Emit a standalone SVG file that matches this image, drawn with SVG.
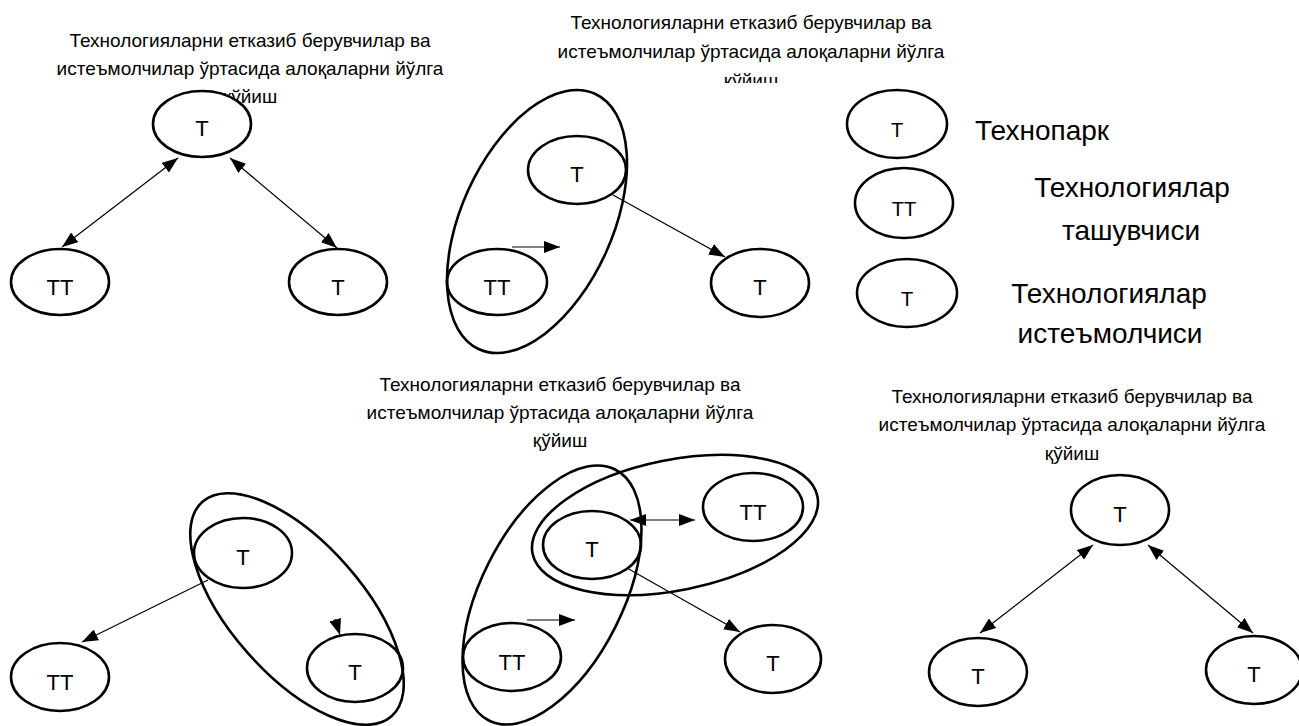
<svg xmlns="http://www.w3.org/2000/svg" width="1299" height="726" viewBox="0 0 1299 726">
<style>
.node{fill:#fff;stroke:#000;stroke-width:2.6}
.grp{fill:none;stroke:#000;stroke-width:2.6}
.lbl{font-family:"Liberation Sans",Arial,sans-serif;font-size:22px;fill:#000;text-anchor:middle}
.lgl{font-family:"Liberation Sans",Arial,sans-serif;font-size:20px;fill:#000;text-anchor:middle}
.ttl{font-family:"Liberation Sans",Arial,sans-serif;font-size:19px;fill:#000;text-anchor:middle}
.leg{font-family:"Liberation Sans",Arial,sans-serif;font-size:28px;fill:#000}
.conn{stroke:#000;stroke-width:1.2;fill:none}
</style>
<defs>
<marker id="ah" viewBox="0 0 16 12" refX="16" refY="6" markerWidth="16" markerHeight="12" markerUnits="userSpaceOnUse" orient="auto-start-reverse">
<path d="M0,0 L16,6 L0,12 z" fill="#000"/>
</marker>
<clipPath id="clip2"><rect x="520" y="0" width="460" height="83"/></clipPath>
</defs>
<rect width="1299" height="726" fill="#fff"/>

<g id="titles">
<g id="title1">
<text class="ttl" x="250" y="47">Технологияларни етказиб берувчилар ва</text>
<text class="ttl" x="250" y="75">истеъмолчилар ўртасида алоқаларни йўлга</text>
<text class="ttl" x="250" y="103">қўйиш</text>
</g>
<g id="title2" clip-path="url(#clip2)">
<text class="ttl" x="751" y="29">Технологияларни етказиб берувчилар ва</text>
<text class="ttl" x="751" y="58">истеъмолчилар ўртасида алоқаларни йўлга</text>
<text class="ttl" x="751" y="87">қўйиш</text>
</g>
<g id="title5">
<text class="ttl" x="560" y="391">Технологияларни етказиб берувчилар ва</text>
<text class="ttl" x="560" y="419">истеъмолчилар ўртасида алоқаларни йўлга</text>
<text class="ttl" x="560" y="447">қўйиш</text>
</g>
<g id="title6">
<text class="ttl" x="1072" y="403">Технологияларни етказиб берувчилар ва</text>
<text class="ttl" x="1072" y="431">истеъмолчилар ўртасида алоқаларни йўлга</text>
<text class="ttl" x="1072" y="460">қўйиш</text>
</g>
</g>

<!-- Panel 1 -->
<g id="p1-top"><ellipse class="node" cx="202" cy="124" rx="49" ry="33"/><text class="lbl" x="202" y="136">Т</text></g>
<g id="p1-tt"><ellipse class="node" cx="60" cy="282" rx="49" ry="33"/><text class="lbl" x="60" y="295">ТТ</text></g>
<g id="p1-t"><ellipse class="node" cx="338" cy="282" rx="49" ry="33"/><text class="lbl" x="338" y="295">Т</text></g>

<!-- Panel 2 -->
<g id="p2-t"><ellipse class="node" cx="577" cy="170" rx="49" ry="34"/><text class="lbl" x="577" y="182">Т</text></g>
<g id="p2-tt"><ellipse class="node" cx="497" cy="282" rx="50" ry="33"/><text class="lbl" x="497" y="295">ТТ</text></g>
<g id="p2-t2"><ellipse class="node" cx="760" cy="283" rx="49" ry="34"/><text class="lbl" x="760" y="295">Т</text></g>
<g id="p2-group"><ellipse class="grp" cx="537" cy="221.5" rx="75.6" ry="140.3" transform="rotate(24.4 537 221.5)"/></g>

<!-- Legend -->
<g id="legend-1"><ellipse class="node" cx="897" cy="124" rx="50" ry="34"/><text class="lgl" x="897" y="137">Т</text><text class="leg" x="975" y="140">Технопарк</text></g>
<g id="legend-2"><ellipse class="node" cx="904" cy="203" rx="49" ry="35"/><text class="lgl" x="904" y="216">ТТ</text><text class="leg" x="1132" y="197" text-anchor="middle">Технологиялар</text><text class="leg" x="1131" y="240" text-anchor="middle">ташувчиси</text></g>
<g id="legend-3"><ellipse class="node" cx="907" cy="293" rx="50" ry="34"/><text class="lgl" x="907" y="306">Т</text><text class="leg" x="1109" y="303" text-anchor="middle">Технологиялар</text><text class="leg" x="1110" y="343" text-anchor="middle">истеъмолчиси</text></g>

<!-- Panel 4 -->
<g id="p4-t"><ellipse class="node" cx="243" cy="553" rx="49" ry="35"/><text class="lbl" x="243" y="565">Т</text></g>
<g id="p4-t2"><ellipse class="node" cx="355" cy="668" rx="48" ry="34"/><text class="lbl" x="355" y="680">Т</text></g>
<g id="p4-tt"><ellipse class="node" cx="60" cy="677" rx="49" ry="34"/><text class="lbl" x="60" y="690">ТТ</text></g>
<g id="p4-group"><ellipse class="grp" cx="297" cy="609" rx="66" ry="143" transform="rotate(-41.4 297 609)"/></g>

<!-- Panel 5 -->
<g id="p5-t"><ellipse class="node" cx="592" cy="545" rx="49" ry="34"/><text class="lbl" x="592" y="557">Т</text></g>
<g id="p5-tt1"><ellipse class="node" cx="753" cy="507" rx="50" ry="34"/><text class="lbl" x="753" y="520">ТТ</text></g>
<g id="p5-tt2"><ellipse class="node" cx="512" cy="657" rx="49" ry="34"/><text class="lbl" x="512" y="670">ТТ</text></g>
<g id="p5-t2"><ellipse class="node" cx="773" cy="659" rx="48" ry="34"/><text class="lbl" x="773" y="671">Т</text></g>
<g id="p5-groupA"><ellipse class="grp" cx="552" cy="595" rx="71" ry="140.5" transform="rotate(26.7 552 595)"/></g>
<g id="p5-groupB"><ellipse class="grp" cx="675" cy="525" rx="145.3" ry="65.2" transform="rotate(-11.35 675 525)"/></g>

<!-- Panel 6 -->
<g id="p6-top"><ellipse class="node" cx="1120" cy="510" rx="49" ry="35"/><text class="lbl" x="1120" y="522">Т</text></g>
<g id="p6-l"><ellipse class="node" cx="978" cy="672" rx="49" ry="34"/><text class="lbl" x="978" y="684">Т</text></g>
<g id="p6-r"><ellipse class="node" cx="1254" cy="670" rx="48" ry="34"/><text class="lbl" x="1254" y="682">Т</text></g>

<g id="connectors">
<line class="conn" x1="178" y1="158" x2="62" y2="247" marker-start="url(#ah)" marker-end="url(#ah)"/>
<line class="conn" x1="230" y1="158" x2="337" y2="248" marker-start="url(#ah)" marker-end="url(#ah)"/>
<line class="conn" x1="613" y1="195" x2="725" y2="257" marker-end="url(#ah)"/>
<line class="conn" x1="512" y1="247" x2="560" y2="247" marker-end="url(#ah)"/>
<line class="conn" x1="208" y1="580" x2="82" y2="642" marker-end="url(#ah)"/>
<line class="conn" x1="335" y1="619" x2="340" y2="635" marker-end="url(#ah)"/>
<line class="conn" x1="630" y1="520" x2="695" y2="520" marker-start="url(#ah)" marker-end="url(#ah)"/>
<line class="conn" x1="627" y1="568" x2="740" y2="632" marker-end="url(#ah)"/>
<line class="conn" x1="527" y1="620" x2="575" y2="620" marker-end="url(#ah)"/>
<line class="conn" x1="1093" y1="545" x2="980" y2="633" marker-start="url(#ah)" marker-end="url(#ah)"/>
<line class="conn" x1="1148" y1="545" x2="1253" y2="633" marker-start="url(#ah)" marker-end="url(#ah)"/>
</g>
</svg>
